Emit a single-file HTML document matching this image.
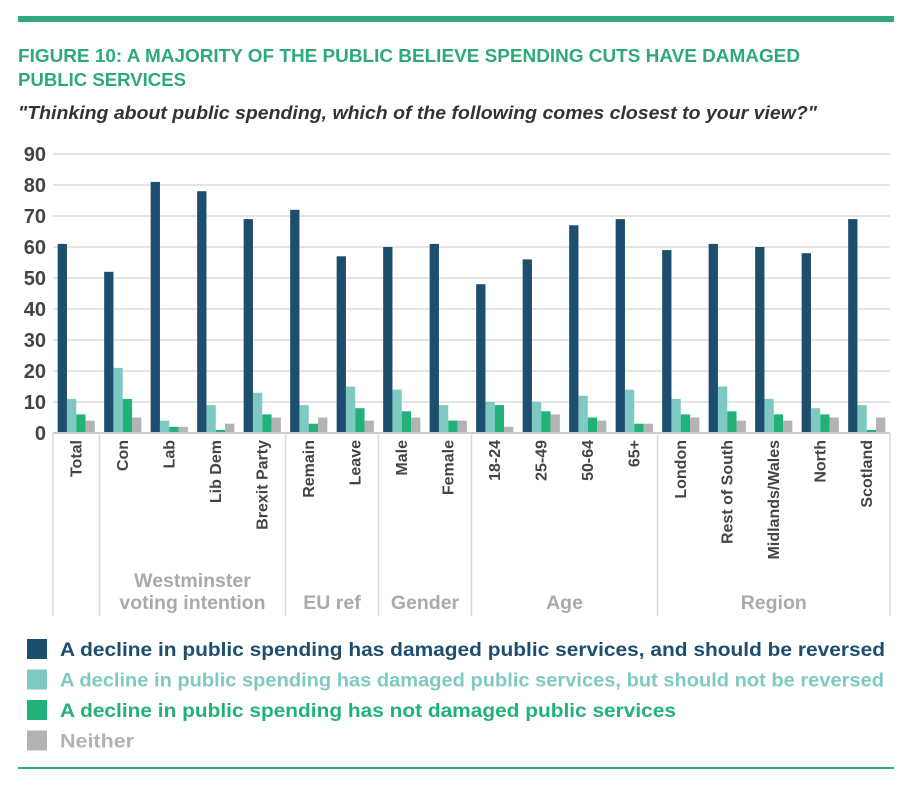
<!DOCTYPE html>
<html><head><meta charset="utf-8">
<style>
body{margin:0;background:#fff;width:917px;height:789px;overflow:hidden;font-family:"Liberation Sans",sans-serif;}
</style></head><body>
<svg id="c" width="917" height="789" xmlns="http://www.w3.org/2000/svg">
<rect x="18" y="16" width="876" height="6" fill="#2eaa7a"/>
<text x="18" y="62" font-size="18" font-weight="bold" fill="#2eaa7a" textLength="782" lengthAdjust="spacingAndGlyphs">FIGURE 10: A MAJORITY OF THE PUBLIC BELIEVE SPENDING CUTS HAVE DAMAGED</text>
<text x="18" y="86" font-size="18" font-weight="bold" fill="#2eaa7a" textLength="168" lengthAdjust="spacingAndGlyphs">PUBLIC SERVICES</text>
<text x="18" y="119" font-size="18" font-weight="bold" font-style="italic" fill="#333" textLength="799" lengthAdjust="spacingAndGlyphs">"Thinking about public spending, which of the following comes closest to your view?"</text>
<g id="plot"></g>
<rect x="18" y="767" width="876" height="2" fill="#2eaa7a"/>
</svg>
<script>
const categories=["Total","Con","Lab","Lib Dem","Brexit Party","Remain","Leave","Male","Female","18-24","25-49","50-64","65+","London","Rest of South","Midlands/Wales","North","Scotland"];
const reversed=[61,52,81,78,69,72,57,60,61,48,56,67,69,59,61,60,58,69];
const notReversed=[11,21,4,9,13,9,15,14,9,10,10,12,14,11,15,11,8,9];
const notDamaged=[6,11,2,1,6,3,8,7,4,9,7,5,3,6,7,6,6,1];
const neither=[4,5,2,3,5,5,4,5,4,2,6,4,3,5,4,4,5,5];
const yTicks=[0,10,20,30,40,50,60,70,80,90];
const groupNames=[["Westminster","voting intention"],["EU ref"],["Gender"],["Age"],["Region"]];
const groupStarts=[1,5,7,9,13];
const groupEnds=[5,7,9,13,18];
const seriesNames=["A decline in public spending has damaged public services, and should be reversed","A decline in public spending has damaged public services, but should not be reversed","A decline in public spending has not damaged public services","Neither"];
const colors=["#1d4e6e","#7ecac3","#22b179","#b3b3b3"];
const legendLengths=[825,824,616,74];
const NS="http://www.w3.org/2000/svg";
const g=document.getElementById("plot");
const L=53,R=890,T=154,B=433,vmax=90;
const slot=(R-L)/categories.length, bw=9.3;
const y=v=>B-(v/vmax)*(B-T);
const xc=i=>L+slot*(i+0.5);
function mk(tag,attrs){const e=document.createElementNS(NS,tag);for(const k in attrs)e.setAttribute(k,attrs[k]);g.appendChild(e);return e;}
yTicks.forEach(t=>{
  const ln=mk("line",{x1:L,x2:R,y1:y(t),y2:y(t),stroke:"#dcdcdc","stroke-width":1.5});
  
  
  const tx=mk("text",{x:46,y:y(t)+7,"text-anchor":"end","font-size":"20","font-weight":"bold",fill:"#444"});
  tx.textContent=t;
  
  
});
const series=[reversed,notReversed,notDamaged,neither];
series.forEach((s,si)=>{
  s.forEach((v,i)=>{
    const x0=xc(i)-2*bw+si*bw;
    const r=mk("rect",{x:x0,y:y(v),width:bw,height:B-y(v),fill:colors[si]});
    
    
  });
});
const axis=mk("line",{x1:L,x2:R,y1:B,y2:B,stroke:"#ccc","stroke-width":2});


categories.forEach((c,i)=>{
  const tx=mk("text",{transform:`translate(${xc(i)+5},440) rotate(-90)`,"text-anchor":"end","font-size":"16","font-weight":"bold",fill:"#444"});
  tx.textContent=c;
  
  
});
const seps=[0,1,5,7,9,13,18];
seps.forEach(k=>{
  const x=L+slot*k;
  const ln=mk("line",{x1:x,x2:x,y1:B,y2:616,stroke:"#d8d8d8","stroke-width":1.5});
  
  
});
groupNames.forEach((lines,gi)=>{
  const cx=L+slot*(groupStarts[gi]+groupEnds[gi])/2;
  lines.forEach((t,li)=>{
    const yy=lines.length===2?587+li*22:609;
    const tx=mk("text",{x:cx,y:yy,"text-anchor":"middle","font-size":"19.5","font-weight":"bold",fill:"#aaa"});
    tx.textContent=t;
    
    
  });
});
seriesNames.forEach((n,si)=>{
  const yy=639+si*30.5;
  const r=mk("rect",{x:27,y:yy,width:20,height:20,fill:colors[si]});
  
  
  const tx=mk("text",{x:60,y:yy+17,"font-size":"19.5","font-weight":"bold",fill:colors[si],textLength:legendLengths[si],lengthAdjust:"spacingAndGlyphs"});
  tx.textContent=n;
  
  
});
</script>
</body></html>
